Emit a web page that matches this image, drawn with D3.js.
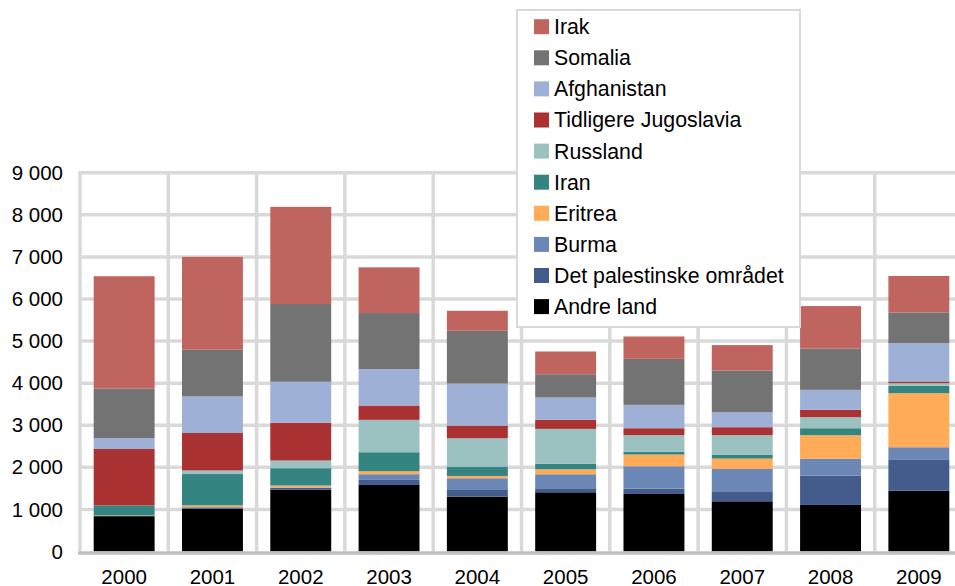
<!DOCTYPE html>
<html lang="no">
<head>
<meta charset="UTF-8">
<title>Asylsøkere etter land</title>
<script src="https://d3js.org/d3.v7.min.js"></script>
<style>
  body { margin: 0; background: #fff; }
  svg text { font-family: "Liberation Sans", Arial, sans-serif; fill: #000; }
  .grid line { stroke: #d9d9d9; stroke-width: 3.5; }
</style>
</head>
<body>
<svg width="955" height="586"></svg>
<script>
// data
const years = ["2000", "2001", "2002", "2003", "2004", "2005", "2006", "2007", "2008", "2009"];
const andreLand   = [840, 1015, 1467, 1581, 1304, 1407, 1367, 1193, 1106, 1447];
const palestinske = [0, 30, 45, 120, 158, 95, 127, 238, 697, 729];
const burma       = [0, 10, 10, 135, 278, 333, 531, 531, 397, 301];
const eritrea     = [15, 40, 45, 71, 55, 119, 278, 246, 563, 1284];
const iran        = [240, 745, 412, 452, 222, 127, 64, 87, 166, 175];
const russland    = [0, 85, 183, 769, 674, 832, 396, 468, 262, 63];
const jugoslavia  = [1340, 890, 896, 341, 301, 214, 166, 190, 174, 40];
const afghanistan = [260, 870, 975, 864, 999, 531, 555, 357, 476, 911];
const somalia     = [1175, 1110, 1848, 1332, 1253, 555, 1094, 990, 983, 730];
const irak        = [2670, 2205, 2308, 1086, 476, 539, 531, 603, 1007, 865];
const yTicks = [0, 1000, 2000, 3000, 4000, 5000, 6000, 7000, 8000, 9000];

// series from bottom to top
const series = [
  { name: "Andre land", values: andreLand, color: "#000000" },
  { name: "Det palestinske området", values: palestinske, color: "#435c8b" },
  { name: "Burma", values: burma, color: "#6a87b6" },
  { name: "Eritrea", values: eritrea, color: "#ffab58" },
  { name: "Iran", values: iran, color: "#348582" },
  { name: "Russland", values: russland, color: "#9bc2c0" },
  { name: "Tidligere Jugoslavia", values: jugoslavia, color: "#ab3232" },
  { name: "Afghanistan", values: afghanistan, color: "#9eb0d6" },
  { name: "Somalia", values: somalia, color: "#737373" },
  { name: "Irak", values: irak, color: "#c0645f" }
];

const table = years.map((yr, i) => {
  const row = { year: yr };
  series.forEach(s => { row[s.name] = s.values[i]; });
  return row;
});

const svg = d3.select("svg");
const plotLeft = 80, plotRight = 963, plotTop = 172.7, plotBottom = 551.5;

const x = d3.scaleBand().domain(years).range([plotLeft, plotRight]).paddingInner(0.31).paddingOuter(0.155);
const xb = d3.scaleBand().domain(years).range([plotLeft, plotRight]);
const y = d3.scaleLinear().domain([0, 9000]).range([plotBottom, plotTop]);

// gridlines
const grid = svg.append("g").attr("class", "grid");
grid.selectAll("line.h").data(yTicks.slice(1)).join("line")
  .attr("class", "h")
  .attr("x1", plotLeft).attr("x2", plotRight)
  .attr("y1", d => y(d)).attr("y2", d => y(d));
grid.selectAll("line.v").data(years).join("line")
  .attr("class", "v")
  .attr("x1", d => xb(d)).attr("x2", d => xb(d))
  .attr("y1", plotTop - 1.7).attr("y2", plotBottom);

// stacked bars
const stack = d3.stack().keys(series.map(s => s.name));
const stacked = stack(table);
svg.append("g").selectAll("g").data(stacked).join("g")
  .attr("fill", (d, i) => series[i].color)
  .selectAll("rect").data(d => d).join("rect")
  .attr("x", d => x(d.data.year))
  .attr("width", x.bandwidth())
  .attr("y", d => y(d[1]))
  .attr("height", d => y(d[0]) - y(d[1]));

// x axis line
svg.append("line")
  .attr("x1", plotLeft - 2).attr("x2", plotRight)
  .attr("y1", plotBottom + 1.5).attr("y2", plotBottom + 1.5)
  .attr("stroke", "#c0c0c0").attr("stroke-width", 3.5);

// y tick labels
const fmt = d => d3.format(",")(d).replace(/,/g, " ");
svg.append("g").selectAll("text").data(yTicks).join("text")
  .attr("x", 63).attr("y", d => y(d))
  .attr("dy", "0.35em")
  .attr("text-anchor", "end")
  .attr("font-size", "20.5px")
  .text(fmt);

// x tick labels
svg.append("g").selectAll("text").data(years).join("text")
  .attr("x", d => x(d) + x.bandwidth() / 2)
  .attr("y", 583.5)
  .attr("text-anchor", "middle")
  .attr("font-size", "20.5px")
  .text(d => d);

// legend (top entry = top of stack)
const legend = svg.append("g");
legend.append("rect")
  .attr("x", 517).attr("y", 10).attr("width", 283).attr("height", 317)
  .attr("fill", "#fff").attr("stroke", "#d9d9d9").attr("stroke-width", 2);
const legItems = series.slice().reverse();
const li = legend.selectAll("g.item").data(legItems).join("g")
  .attr("class", "item")
  .attr("transform", (d, i) => `translate(534,${26.7 + i * 31.1})`);
li.append("rect")
  .attr("x", 0).attr("y", -7.5).attr("width", 15).attr("height", 15)
  .attr("fill", d => d.color);
li.append("text")
  .attr("x", 20).attr("y", 0).attr("dy", "0.35em")
  .attr("font-size", "21.3px")
  .text(d => d.name);
</script>
</body>
</html>
